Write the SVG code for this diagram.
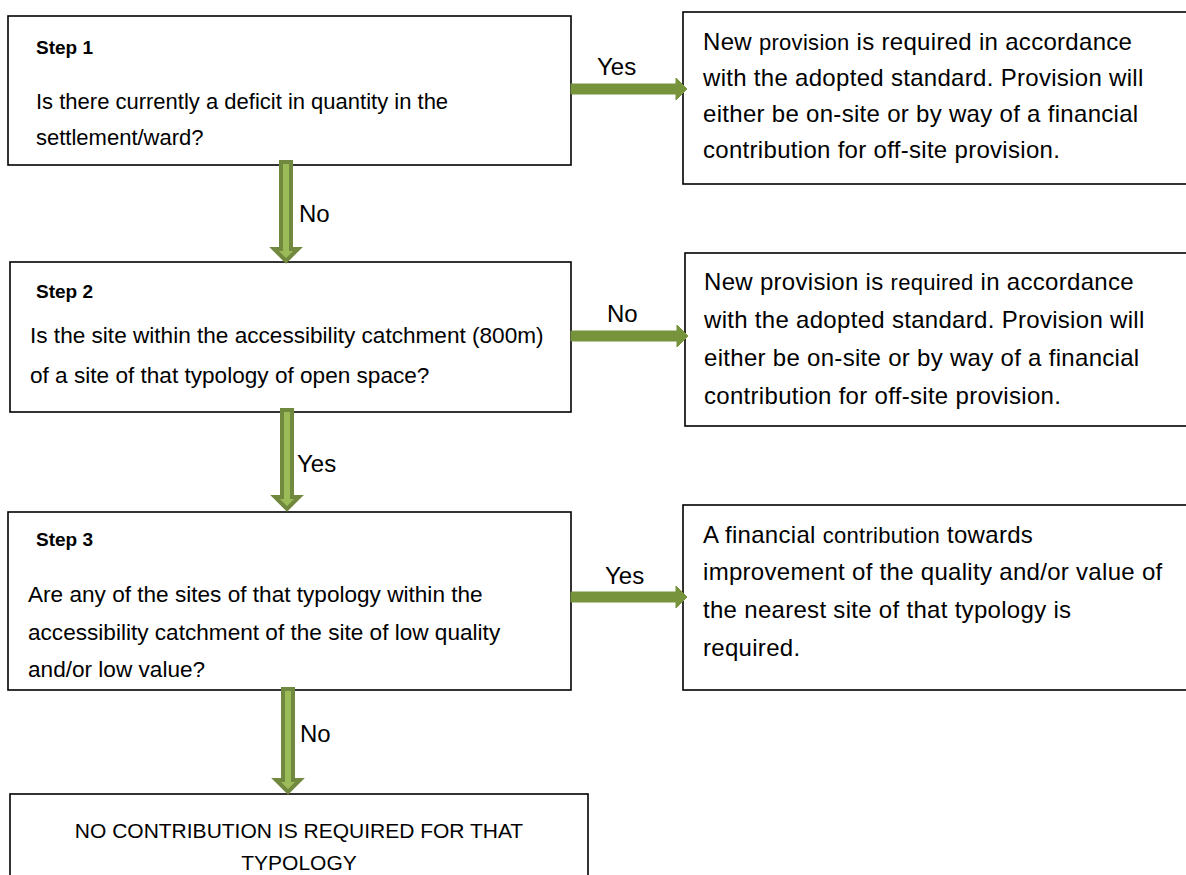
<svg xmlns="http://www.w3.org/2000/svg" width="1186" height="875" viewBox="0 0 1186 875">
<style>
.box{fill:#ffffff;stroke:#000000;stroke-width:1.6}
.t{font-family:"Liberation Sans",Arial,sans-serif;font-size:22.6px;fill:#000000}
.t1{font-size:22px}
.r{font-family:"Liberation Sans",Arial,sans-serif;font-size:24px;letter-spacing:0.3px;fill:#000000}
.sm{font-size:22px}
.b{font-family:"Liberation Sans",Arial,sans-serif;font-size:19px;font-weight:bold;fill:#000000}
.lbl{font-family:"Liberation Sans",Arial,sans-serif;font-size:24px;fill:#000000}
.ctr{font-family:"Liberation Sans",Arial,sans-serif;font-size:21px;fill:#000000;text-anchor:middle}
.ra{fill:#77933C;stroke:#77933C;stroke-width:1}
.da{fill:#9BBB59;stroke:#71893F;stroke-width:4;stroke-linejoin:miter}
</style>
<rect width="1186" height="875" fill="#ffffff"/>

<g id="step1">
<rect class="box" x="8" y="16" width="563" height="149"/>
<text class="b" x="36" y="54">Step 1</text>
<text class="t t1" x="36" y="109">Is there currently a deficit in quantity in the</text>
<text class="t t1" x="36" y="145">settlement/ward?</text>
</g>

<g id="result1">
<rect class="box" x="683" y="12" width="520" height="172"/>
<text class="r" x="703" y="50">New <tspan class="sm">provision</tspan> is required in accordance</text>
<text class="r" x="703" y="86">with the adopted standard. Provision will</text>
<text class="r" x="703" y="122">either be on-site or by way of a financial</text>
<text class="r" x="703" y="158">contribution for off-site provision.</text>
</g>

<g id="step2">
<rect class="box" x="10" y="262" width="561" height="150"/>
<text class="b" x="36" y="298">Step 2</text>
<text class="t" x="30" y="343">Is the site within the accessibility catchment (800m)</text>
<text class="t" x="30" y="383">of a site of that typology of open space?</text>
</g>

<g id="result2">
<rect class="box" x="685" y="253" width="520" height="173"/>
<text class="r" x="704" y="290">New provision is <tspan class="sm">required</tspan> in accordance</text>
<text class="r" x="704" y="328">with the adopted standard. Provision will</text>
<text class="r" x="704" y="366">either be on-site or by way of a financial</text>
<text class="r" x="704" y="404">contribution for off-site provision.</text>
</g>

<g id="step3">
<rect class="box" x="8" y="512" width="563" height="178"/>
<text class="b" x="36" y="546">Step 3</text>
<text class="t" x="28" y="602">Are any of the sites of that typology within the</text>
<text class="t" x="28" y="640">accessibility catchment of the site of low quality</text>
<text class="t" x="28" y="677">and/or low value?</text>
</g>

<g id="result3">
<rect class="box" x="683" y="505" width="520" height="185"/>
<text class="r" x="703" y="543">A financial <tspan class="sm">contribution</tspan> towards</text>
<text class="r" x="703" y="580">improvement of the quality and/or value of</text>
<text class="r" x="703" y="618">the nearest site of that typology is</text>
<text class="r" x="703" y="656">required.</text>
</g>

<g id="final">
<rect class="box" x="10" y="794" width="578" height="100"/>
<text class="ctr" x="299" y="838">NO CONTRIBUTION IS REQUIRED FOR THAT</text>
<text class="ctr" x="299" y="870">TYPOLOGY</text>
</g>

<g id="connectors">
<polygon class="ra" points="571,84 676,84 676,78 687,89 676,100 676,94 571,94"/>
<text class="lbl" x="597" y="75">Yes</text>
<polygon class="ra" points="571,331 677,331 677,325 688,336 677,347 677,341 571,341"/>
<text class="lbl" x="607" y="322">No</text>
<polygon class="ra" points="571,592 676,592 676,586 687,597 676,608 676,602 571,602"/>
<text class="lbl" x="605" y="584">Yes</text>

<polygon class="da" points="281,162 291,162 291,249 298,249 286,261 274,249 281,249"/>
<text class="lbl" x="299" y="222">No</text>
<polygon class="da" points="282,410 292,410 292,497 299,497 287,509 275,497 282,497"/>
<text class="lbl" x="297" y="472">Yes</text>
<polygon class="da" points="283,689 293,689 293,780 300,780 288,792 276,780 283,780"/>
<text class="lbl" x="300" y="742">No</text>
</g>
</svg>
